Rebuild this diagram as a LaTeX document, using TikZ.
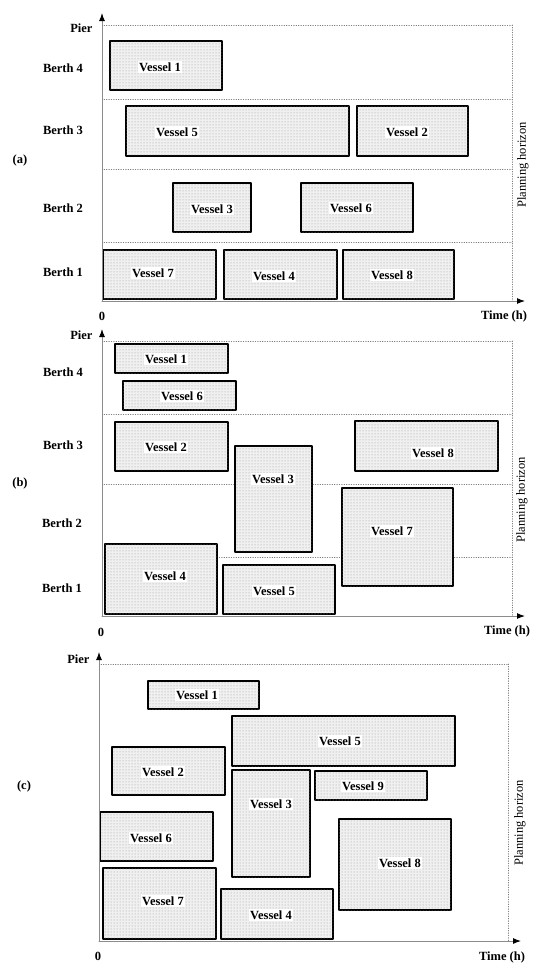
\documentclass[tikz,border=0pt]{standalone}
\usepackage{fontspec}
\setmainfont{Liberation Serif}
\usetikzlibrary{arrows.meta,patterns}

\begin{document}
\begin{tikzpicture}[x=1pt,y=-1pt,line cap=round,line join=round,
  >={Latex[length=8pt,width=6pt,color=black]},
  font=\fontsize{12.5}{14}\selectfont\bfseries,
  vessel/.style={draw=black,line width=1.6pt,fill=black!6,
    postaction={pattern=dots,pattern color=black!40}},
  vlabel/.style={fill=white,inner sep=1.5pt},
  guide/.style={gray,dash pattern=on .6pt off 1.8pt,line width=.7pt},
  axis/.style={black!45,line width=1pt},
  horizon/.style={rotate=90,font=\fontsize{12.5}{14}\selectfont}]
  \useasboundingbox (0,0) rectangle (536,980);

  % (a)
  \coordinate (a-o) at (102,301);
  \coordinate (a-top) at (102,13);
  \coordinate (a-end) at (525,301);
  \foreach \yy in {25,99,169,242}{
    \draw[guide] (104,\yy)--(512,\yy);
  }
  \draw[guide] (512,25)--(512,301);
  \foreach \nr/\xa/\ya/\xb/\yb/\lx/\ly in {
    1/110/41/222/90/160/67, 5/126/106/349/156/177/132,
    2/357/106/468/156/407/132, 3/173/183/251/232/212/209,
    6/301/183/413/232/351/208, 7/103/250/216/299/153/273,
    4/224/250/337/299/274/276, 8/343/250/454/299/392/275}{
    \draw[vessel] (\xa,\ya) rectangle (\xb,\yb);
    \node[vlabel] (a-v\nr) at (\lx,\ly) {Vessel \nr};
  }
  \draw[axis,->] (a-o)--(a-top);
  \draw[axis,->] (a-o)--(a-end);
  \node[left] (a-pier) at (96,28) {Pier};
  \node (a-b4) at (63,68) {Berth 4};
  \node (a-b3) at (63,130) {Berth 3};
  \node (a-b2) at (63,208) {Berth 2};
  \node (a-b1) at (63,272) {Berth 1};
  \node (a-lab) at (20,160) {(a)};
  \node (a-zero) at (102,316) {0};
  \node (a-time) at (504,316) {Time (h)};
  \node[horizon] (a-hor) at (523,165) {Planning horizon};

  % (b)
  \coordinate (b-o) at (102,616);
  \coordinate (b-top) at (102,329);
  \coordinate (b-end) at (525,616);
  \foreach \yy in {341,414,484,557}{
    \draw[guide] (104,\yy)--(512,\yy);
  }
  \draw[guide] (512,341)--(512,616);
  \foreach \nr/\xa/\ya/\xb/\yb/\lx/\ly in {
    1/115/344/228/373/166/359, 6/123/381/236/410/182/396,
    2/115/422/228/471/166/447, 3/235/446/312/552/273/479,
    8/355/421/498/471/433/453, 7/342/488/453/586/392/531,
    4/105/544/217/614/165/576, 5/223/565/335/614/274/591}{
    \draw[vessel] (\xa,\ya) rectangle (\xb,\yb);
    \node[vlabel] (b-v\nr) at (\lx,\ly) {Vessel \nr};
  }
  \draw[axis,->] (b-o)--(b-top);
  \draw[axis,->] (b-o)--(b-end);
  \node[left] (b-pier) at (96,335) {Pier};
  \node (b-b4) at (63,372) {Berth 4};
  \node (b-b3) at (63,445) {Berth 3};
  \node (b-b2) at (62,523) {Berth 2};
  \node (b-b1) at (62,588) {Berth 1};
  \node (b-lab) at (20,483) {(b)};
  \node (b-zero) at (101,632) {0};
  \node (b-time) at (507,631) {Time (h)};
  \node[horizon] (b-hor) at (522,500) {Planning horizon};

  % (c)
  \coordinate (c-o) at (99,941);
  \coordinate (c-top) at (99,652);
  \coordinate (c-end) at (521,941);
  \draw[guide] (101,664)--(508,664);
  \draw[guide] (508,664)--(508,941);
  \foreach \nr/\xa/\ya/\xb/\yb/\lx/\ly in {
    1/148/681/259/709/197/695, 5/232/716/455/766/340/741,
    2/112/747/225/795/163/772, 3/232/770/310/877/271/804,
    9/315/771/427/800/363/786, 6/100/812/213/861/151/838,
    8/339/819/451/910/400/863, 7/103/868/216/939/163/901,
    4/221/889/333/939/271/915}{
    \draw[vessel] (\xa,\ya) rectangle (\xb,\yb);
    \node[vlabel] (c-v\nr) at (\lx,\ly) {Vessel \nr};
  }
  \draw[axis,->] (c-o)--(c-top);
  \draw[axis,->] (c-o)--(c-end);
  \node[left] (c-pier) at (93,659) {Pier};
  \node (c-lab) at (24,786) {(c)};
  \node (c-zero) at (98,956) {0};
  \node (c-time) at (502,957) {Time (h)};
  \node[horizon] (c-hor) at (520,823) {Planning horizon};
\end{tikzpicture}
\end{document}
